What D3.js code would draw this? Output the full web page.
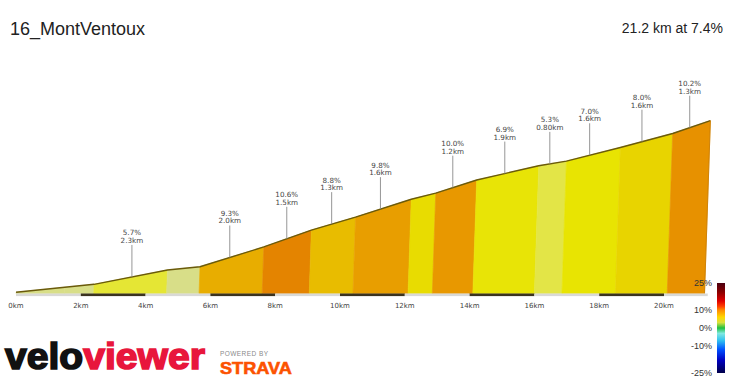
<!DOCTYPE html>
<html>
<head>
<meta charset="utf-8">
<script src="https://cdn.jsdelivr.net/npm/d3@7"></script>
<style>
  body { margin: 0; background: #fff; }
  svg { display: block; }
</style>
</head>
<body>
<div id="chart"></div>
<script>
// profile data
const boundaryKm = [0, 1.5, 2.4, 4.65, 5.65, 7.6, 9.05, 10.4, 12.1, 12.85, 14.1, 16.0, 16.85, 18.5, 20.1, 21.25]
const elevation  = [300, 346, 373, 504, 534, 715, 869, 988, 1151, 1207, 1327, 1458, 1500, 1625, 1753, 1870]
// average gradient of each coloured segment (between two boundaries)
const segGrade   = [3.1, 3.0, 5.8, 3.0, 9.3, 10.6, 8.8, 9.8, 7.5, 10.0, 6.9, 5.3, 7.0, 8.0, 10.2]

// climb annotations
const labelKm    = [3.56, 6.56, 8.3, 9.67, 11.16, 13.37, 14.96, 16.34, 17.56, 19.16, 20.62]
const labelGrade = ["5.7%", "9.3%", "10.6%", "8.8%", "9.8%", "10.0%", "6.9%", "5.3%", "7.0%", "8.0%", "10.2%"]
const labelLen   = ["2.3km", "2.0km", "1.5km", "1.3km", "1.6km", "1.2km", "1.9km", "0.80km", "1.6km", "1.6km", "1.3km"]

const tickKm = [0, 2, 4, 6, 8, 10, 12, 14, 16, 18, 20]
const legendTicks = [25, 10, 0, -10, -25]

const title = "16_MontVentoux"
const summary = "21.2 km at 7.4%"

//dimensions
const width = 733, height = 389
const baseY = 293.5
const skew = 0.034   // the profile leans a little to the right as it gets higher

const svg = d3.select("#chart").append("svg")
    .attr("width", width)
    .attr("height", height)

//scales
const x = d3.scaleLinear().domain([0, 20]).range([16, 664])
const y = d3.scaleLinear().domain([300, 1870]).range([292.3, 120.7])

const gradeColor = d3.scaleLinear()
    .domain([2, 4, 5, 6, 7, 8, 9, 10, 11])
    .range(["#d4dc96", "#dbe07a", "#e1e452", "#e6e62c", "#e8e402", "#e8d400", "#e8b600", "#e89800", "#e27600"])
    .clamp(true)

const elevAt = d3.scaleLinear().domain(boundaryKm).range(elevation)
const topX = (km, e) => x(km) + skew * (baseY - y(e))

//title texts
svg.append("text")
    .attr("x", 10).attr("y", 35)
    .attr("font-family", "Liberation Sans, Arial, sans-serif")
    .attr("font-size", 18)
    .attr("fill", "#222")
    .text(title)

svg.append("text")
    .attr("x", 723).attr("y", 33)
    .attr("text-anchor", "end")
    .attr("font-family", "Liberation Sans, Arial, sans-serif")
    .attr("font-size", 14)
    .attr("fill", "#222")
    .text(summary)

//segments
const segs = segGrade.map((g, i) => ({
    k0: boundaryKm[i], k1: boundaryKm[i + 1],
    e0: elevation[i], e1: elevation[i + 1], grade: g
}))

svg.append("g").selectAll("path")
    .data(segs)
    .enter().append("path")
    .attr("d", d => `M${x(d.k0)},${baseY}L${topX(d.k0, d.e0)},${y(d.e0)}L${topX(d.k1, d.e1)},${y(d.e1)}L${x(d.k1)},${baseY}Z`)
    .attr("fill", d => gradeColor(d.grade))
    .attr("stroke", d => gradeColor(d.grade))
    .attr("stroke-width", 0.6)

//top outline
const line = d3.line()
    .x((k, i) => topX(k, elevation[i]))
    .y((k, i) => y(elevation[i]))

svg.append("path")
    .attr("d", line(boundaryKm))
    .attr("fill", "none")
    .attr("stroke", "#6a5a0c")
    .attr("stroke-width", 1.4)

// right edge
const last = boundaryKm.length - 1
svg.append("line")
    .attr("x1", topX(boundaryKm[last], elevation[last])).attr("y1", y(elevation[last]))
    .attr("x2", x(boundaryKm[last])).attr("y2", baseY)
    .attr("stroke", "#c77a00").attr("stroke-width", 0.8)

//distance strip
const stripEnd = boundaryKm[last] + 0.1
const bands = d3.range(0, 22, 2).map(k => ({ k0: k, k1: Math.min(k + 2, stripEnd), dark: (k / 2) % 2 === 1 }))
svg.append("g").selectAll("rect")
    .data(bands)
    .enter().append("rect")
    .attr("x", d => x(d.k0))
    .attr("y", baseY)
    .attr("width", d => x(d.k1) - x(d.k0))
    .attr("height", 2.6)
    .attr("fill", d => d.dark ? "#3b3320" : "#d9d9d6")

svg.append("g").selectAll("text")
    .data(tickKm)
    .enter().append("text")
    .attr("x", d => x(d))
    .attr("y", 308)
    .attr("text-anchor", "middle")
    .attr("font-family", "DejaVu Sans, Verdana, sans-serif")
    .attr("font-size", 7)
    .attr("fill", "#444")
    .text(d => d + "km")

//annotations
const labels = labelKm.map((k, i) => {
    const e = elevAt(k)
    return { x: topX(k, e), y: y(e), grade: labelGrade[i], len: labelLen[i] }
})

const lab = svg.append("g").selectAll("g")
    .data(labels)
    .enter().append("g")
    .attr("transform", d => `translate(${d.x},${d.y})`)

lab.append("line")
    .attr("x1", 0).attr("x2", 0)
    .attr("y1", 0).attr("y2", -32)
    .attr("stroke", "#8a8a8a")
    .attr("stroke-width", 0.9)

lab.append("text")
    .attr("y", -41.5)
    .attr("text-anchor", "middle")
    .attr("font-family", "DejaVu Sans, Verdana, sans-serif")
    .attr("font-size", 7.2)
    .attr("fill", "#444")
    .text(d => d.grade)

lab.append("text")
    .attr("y", -34)
    .attr("text-anchor", "middle")
    .attr("font-family", "DejaVu Sans, Verdana, sans-serif")
    .attr("font-size", 7.2)
    .attr("fill", "#444")
    .text(d => d.len)

//legend colour bar
const legY = d3.scaleLinear().domain([25, -25]).range([283, 373])
const legStops = [
    [25, "#4a0010"], [20, "#8a0000"], [15, "#e00000"], [12, "#ff4000"], [10, "#ff8a00"],
    [6, "#ffd800"], [3, "#d8e040"], [0, "#20c040"], [-3, "#80e8e0"], [-7, "#30c0f0"],
    [-12, "#0050ff"], [-18, "#0000c0"], [-25, "#00004a"]
]
const defs = svg.append("defs")
const grad = defs.append("linearGradient")
    .attr("id", "gradeScale")
    .attr("x1", 0).attr("y1", 0).attr("x2", 0).attr("y2", 1)
grad.selectAll("stop")
    .data(legStops)
    .enter().append("stop")
    .attr("offset", d => (legY(d[0]) - 283) / 90)
    .attr("stop-color", d => d[1])

svg.append("rect")
    .attr("x", 717).attr("y", legY(25))
    .attr("width", 8).attr("height", legY(-25) - legY(25))
    .attr("fill", "url(#gradeScale)")

svg.append("g").selectAll("text")
    .data(legendTicks)
    .enter().append("text")
    .attr("x", 712)
    .attr("y", d => legY(d) + 3)
    .attr("text-anchor", "end")
    .attr("font-family", "Liberation Sans, Arial, sans-serif")
    .attr("font-size", 9)
    .attr("fill", "#333")
    .text(d => d + "%")

//logo
const logo = svg.append("text")
    .attr("x", 5).attr("y", 369)
    .attr("font-family", "Liberation Sans, Arial, sans-serif")
    .attr("font-weight", "bold")
    .attr("font-size", 36)
    .attr("stroke-width", 1.6)
    .attr("textLength", 200)
    .attr("lengthAdjust", "spacingAndGlyphs")
logo.append("tspan").attr("fill", "#111").attr("stroke", "#111").text("velo")
logo.append("tspan").attr("fill", "#e8163c").attr("stroke", "#e8163c").text("viewer")

svg.append("text")
    .attr("x", 220).attr("y", 355.5)
    .attr("font-family", "Liberation Sans, Arial, sans-serif")
    .attr("font-size", 6.5)
    .attr("fill", "#8a8a8a")
    .attr("textLength", 48)
    .attr("lengthAdjust", "spacing")
    .text("POWERED BY")

svg.append("text")
    .attr("x", 220).attr("y", 374)
    .attr("font-family", "Liberation Sans, Arial, sans-serif")
    .attr("font-weight", "bold")
    .attr("font-size", 17)
    .attr("fill", "#fc5200")
    .attr("stroke", "#fc5200")
    .attr("stroke-width", 0.6)
    .attr("textLength", 72)
    .attr("lengthAdjust", "spacingAndGlyphs")
    .text("STRAVA")
</script>
</body>
</html>
